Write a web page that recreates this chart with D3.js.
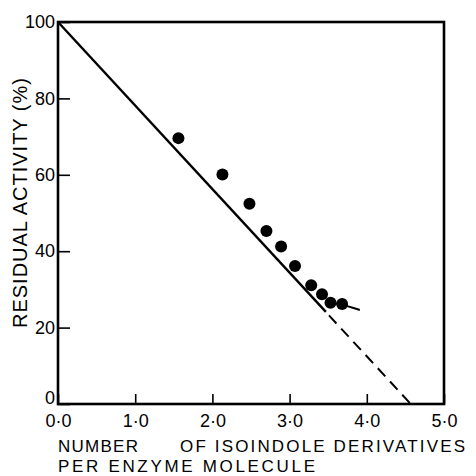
<!DOCTYPE html>
<html>
<head>
<meta charset="utf-8">
<script src="https://cdn.jsdelivr.net/npm/d3@7"></script>
<style>
  body { margin: 0; background: #fff; }
  text { font-family: "Liberation Sans", Arial, sans-serif; fill: #000; }
</style>
</head>
<body>
<svg id="chart" width="476" height="476"></svg>
<script>
// data
const xTicks = [0, 1, 2, 3, 4, 5]
const yTicks = [0, 20, 40, 60, 80, 100]
const isoindole = [1.56, 2.13, 2.48, 2.70, 2.89, 3.07, 3.28, 3.42, 3.53, 3.68]
const activity = [69.6, 60.1, 52.4, 45.3, 41.2, 36.1, 31.1, 28.7, 26.5, 26.2]
// fitted line (solid part), its extrapolation (dashed) and the levelling-off tail
const fitSolid = [[0, 100], [3.47, 24.1]]
const fitDashed = [[3.51, 23.2], [4.57, 0]]
const tail = [[3.53, 26.5], [3.68, 26.1], [3.91, 24.6]]

const svg = d3.select('#chart')
const x = d3.scaleLinear().domain([0, 5]).range([58, 444])
const y = d3.scaleLinear().domain([0, 100]).range([404, 22])
const fmt = d => d.toFixed(1).replace('.', '\u00b7')

// x axis, ticks pointing inward
const gx = svg.append('g')
    .attr('transform', `translate(0,${y(0)})`)
    .call(d3.axisBottom(x).tickValues(xTicks).tickFormat(fmt).tickSize(-10).tickPadding(10))
gx.select('.domain').remove()
gx.selectAll('line').attr('stroke-width', 1.6)
gx.selectAll('text').attr('font-size', '18px')

// y axis
const gy = svg.append('g')
    .attr('transform', `translate(${x(0)},0)`)
    .call(d3.axisLeft(y).tickValues(yTicks).tickSize(-12).tickPadding(3))
gy.select('.domain').remove()
gy.selectAll('line').attr('stroke-width', 1.6)
gy.selectAll('text').attr('font-size', '18px')
// the zero sits a little above the corner so it clears 0·0
gy.selectAll('text').filter(d => d === 0).attr('dy', '-0.05em')

// frame
svg.append('rect')
    .attr('x', x(0)).attr('y', y(100))
    .attr('width', x(5) - x(0)).attr('height', y(0) - y(100))
    .attr('fill', 'none').attr('stroke', '#000').attr('stroke-width', 2.6)

const line = d3.line().x(d => x(d[0])).y(d => y(d[1]))

svg.append('path').attr('d', line(fitSolid))
    .attr('fill', 'none').attr('stroke', '#000').attr('stroke-width', 2.4)
svg.append('path').attr('d', line(fitDashed))
    .attr('fill', 'none').attr('stroke', '#000').attr('stroke-width', 2)
    .attr('stroke-dasharray', '11,7')
svg.append('path').attr('d', d3.line().curve(d3.curveBasis).x(d => x(d[0])).y(d => y(d[1]))(tail))
    .attr('fill', 'none').attr('stroke', '#000').attr('stroke-width', 2)

svg.selectAll('.dot')
    .data(isoindole.map((v, i) => [v, activity[i]]))
    .enter()
    .append('circle')
    .attr('class', 'dot')
    .attr('cx', d => x(d[0]))
    .attr('cy', d => y(d[1]))
    .attr('r', 6)
    .attr('fill', '#000')

// axis titles
svg.append('text')
    .attr('transform', 'translate(27,328) rotate(-90)')
    .attr('font-size', '20px')
    .attr('textLength', 250)
    .text('RESIDUAL ACTIVITY (%)')

svg.append('text').attr('x', 58).attr('y', 452).attr('font-size', '17px')
    .attr('textLength', 80).text('NUMBER')
svg.append('text').attr('x', 180).attr('y', 452).attr('font-size', '17px')
    .attr('textLength', 285).text('OF ISOINDOLE DERIVATIVES')
svg.append('text').attr('x', 58).attr('y', 472).attr('font-size', '17px')
    .attr('textLength', 257).text('PER ENZYME MOLECULE')
</script>
</body>
</html>
